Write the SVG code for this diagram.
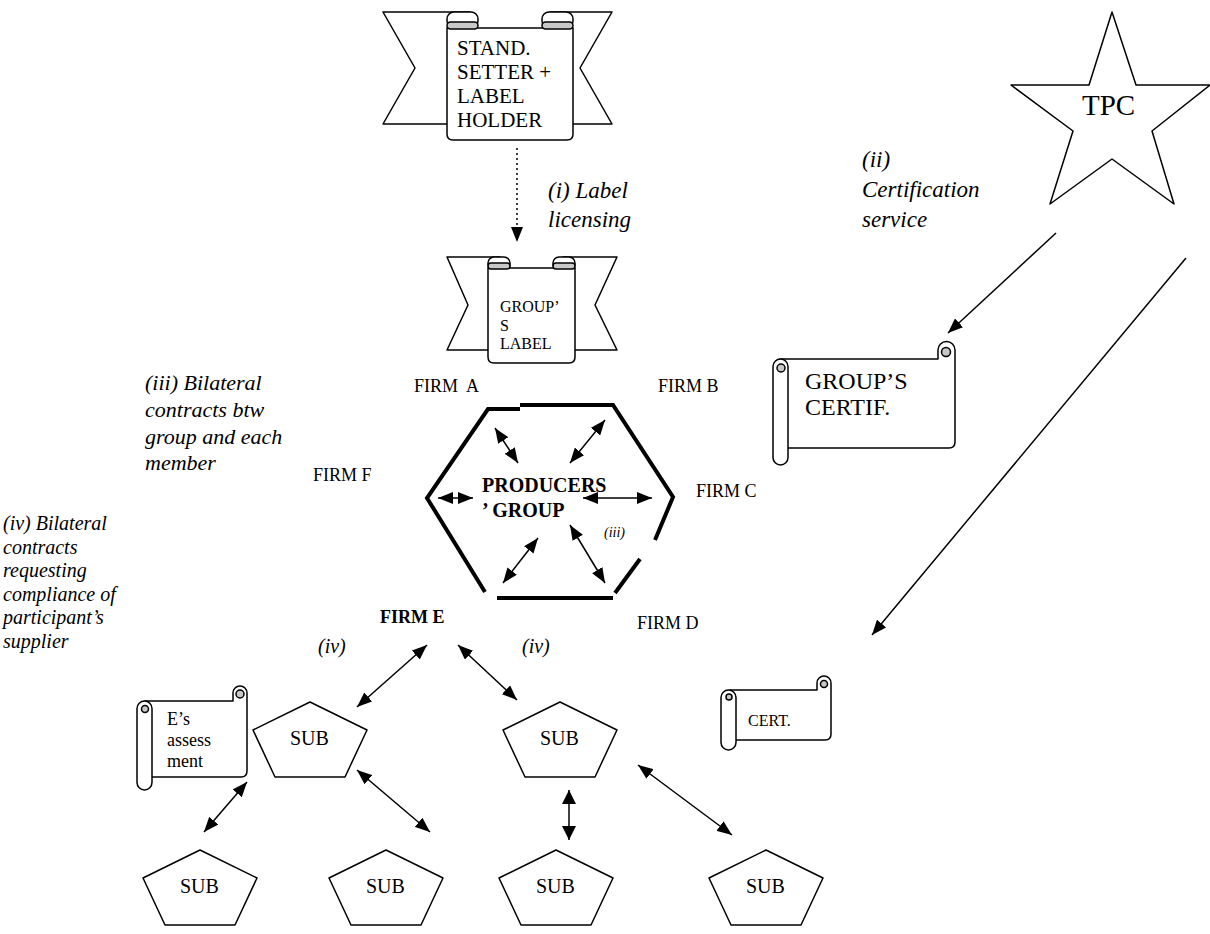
<svg xmlns="http://www.w3.org/2000/svg" width="1210" height="934" viewBox="0 0 1210 934" font-family="'Liberation Serif', 'Times New Roman', serif">
  <style>
    text, tspan { font-family: "Liberation Serif", "Times New Roman", serif; fill: #000; }
    .it { font-style: italic; }
    .bold { font-weight: bold; }
    .shape { fill: #fff; stroke: #000; stroke-width: 1.5; stroke-linejoin: round; }
    .curl { fill: #c8c8c8; stroke: #000; stroke-width: 1.5; }
    .hex { fill: none; stroke: #000; stroke-width: 4; stroke-linecap: butt; stroke-linejoin: miter; }
    .link { fill: none; stroke: #000; stroke-width: 1.5; }
    .two { marker-start: url(#head); marker-end: url(#head); }
    .one { marker-end: url(#head); }
    .dots { stroke-dasharray: 2 3; }
  </style>
  <defs>
    <marker id="head" viewBox="0 0 15 12" refX="15" refY="6" markerWidth="15" markerHeight="12" markerUnits="userSpaceOnUse" orient="auto-start-reverse">
      <path d="M0,0 L15,6 L0,12 Z" fill="#000"/>
    </marker>
    <marker id="headBig" viewBox="0 0 14 14" refX="14" refY="7" markerWidth="14" markerHeight="14" markerUnits="userSpaceOnUse" orient="auto-start-reverse">
      <path d="M0,0 L14,7 L0,14 Z" fill="#000"/>
    </marker>
  </defs>

  <!-- standard setter ribbon -->
  <g id="standard-setter">
    <path class="shape" d="M383,12 L470,12 L470,124 L383,124 L415,68 Z"/>
    <path class="shape" d="M612,12 L550,12 L550,124 L612,124 L580,68 Z"/>
    <rect class="shape" x="447" y="12" width="31" height="16" rx="7"/>
    <rect class="shape" x="542" y="12" width="31" height="16" rx="7"/>
    <path class="shape" d="M447,28 L447,134 Q447,140 453,140 L567,140 Q573,140 573,134 L573,28 Z"/>
    <rect class="curl" x="447" y="22" width="31" height="7" rx="3.5"/>
    <rect class="curl" x="542" y="22" width="31" height="7" rx="3.5"/>
    <text x="457" y="55" font-size="21">STAND.</text>
    <text x="457" y="79" font-size="21">SETTER +</text>
    <text x="457" y="103" font-size="21">LABEL</text>
    <text x="457" y="127" font-size="21">HOLDER</text>
  </g>

  <!-- group's label ribbon -->
  <g id="group-label">
    <path class="shape" d="M447,257 L500,257 L500,350 L447,350 L468,305 Z"/>
    <path class="shape" d="M617,257 L563,257 L563,350 L617,350 L595,305 Z"/>
    <rect class="shape" x="488" y="257" width="22" height="13" rx="6"/>
    <rect class="shape" x="553" y="257" width="22" height="13" rx="6"/>
    <path class="shape" d="M488,268 L488,357 Q488,363 494,363 L569,363 Q575,363 575,357 L575,268 Z"/>
    <rect class="curl" x="488" y="263" width="22" height="6" rx="3"/>
    <rect class="curl" x="553" y="263" width="22" height="6" rx="3"/>
    <text x="500" y="312" font-size="16">GROUP’</text>
    <text x="500" y="331" font-size="16">S</text>
    <text x="500" y="349" font-size="16">LABEL</text>
  </g>

  <!-- third-party certifier -->
  <g id="tpc">
    <polygon class="shape" points="1112,12 1136,85 1210,85 1152,131 1174,204 1112,159 1050,204 1073,131 1011,85 1089,85"/>
    <text x="1082" y="115" font-size="29">TPC</text>
  </g>

  <!-- group certificate scroll -->
  <g id="group-certificate">
    <path class="shape" d="M780,359 L938,359 L938,350 A8.5,8.5 0 0 1 955,350 L955,442 Q955,448 949,448 L780,448 Z"/>
    <circle class="curl" cx="946" cy="352" r="4.5"/>
    <rect class="shape" x="773" y="359" width="15" height="106" rx="7.5"/>
    <circle class="curl" cx="781" cy="368" r="4"/>
    <text x="805" y="389" font-size="24">GROUP’S</text>
    <text x="805" y="415" font-size="24">CERTIF.</text>
  </g>

  <!-- producers' group -->
  <g id="producers-group">
    <path class="hex" d="M485,592 L427,498 L488,409 L520,409"/>
    <path class="hex" d="M520,405 L613,405 L673,497 L655,540"/>
    <path class="hex" d="M640,559 L615,593"/>
    <path class="hex" d="M497,598 L613,598"/>
    <text class="bold" x="482" y="492" font-size="20">PRODUCERS</text>
    <text class="bold" x="482" y="517" font-size="20">’ GROUP</text>
    <text class="it" x="604" y="537" font-size="14">(iii)</text>
  </g>

  <!-- member firms -->
  <g id="firm-a"><text x="414" y="392" font-size="18" xml:space="preserve">FIRM  A</text></g>
  <g id="firm-b"><text x="658" y="392" font-size="18">FIRM B</text></g>
  <g id="firm-c"><text x="696" y="497" font-size="18">FIRM C</text></g>
  <g id="firm-d"><text x="637" y="629" font-size="18">FIRM D</text></g>
  <g id="firm-e"><text class="bold" x="380" y="623" font-size="18">FIRM E</text></g>
  <g id="firm-f"><text x="313" y="481" font-size="18">FIRM F</text></g>

  <!-- E's assessment scroll -->
  <g id="e-assessment">
    <path class="shape" d="M145,701 L233,701 L233,693 A7,7 0 0 1 247,693 L247,771 Q247,777 241,777 L145,777 Z"/>
    <circle class="curl" cx="240" cy="694" r="4"/>
    <rect class="shape" x="137" y="701" width="15" height="89" rx="7.5"/>
    <circle class="curl" cx="145" cy="709" r="3.5"/>
    <text x="167" y="725" font-size="18">E’s</text>
    <text x="167" y="746" font-size="18">assess</text>
    <text x="167" y="767" font-size="18">ment</text>
  </g>

  <!-- supplier certificate scroll -->
  <g id="cert">
    <path class="shape" d="M730,690 L817,690 L817,683 A7,7 0 0 1 831,683 L831,734 Q831,740 825,740 L730,740 Z"/>
    <circle class="curl" cx="824" cy="684" r="3.5"/>
    <rect class="shape" x="721" y="690" width="15" height="60" rx="7.5"/>
    <circle class="curl" cx="729" cy="697" r="3"/>
    <text x="748" y="726" font-size="16">CERT.</text>
  </g>

  <!-- suppliers -->
  <g id="sub-1">
    <polygon class="shape" points="310,702 367,730 345,777 275,777 253,730"/>
    <text x="290" y="745" font-size="20">SUB</text>
  </g>
  <g id="sub-2">
    <polygon class="shape" points="560,702 617,730 595,777 525,777 503,730"/>
    <text x="540" y="745" font-size="20">SUB</text>
  </g>
  <g id="sub-3">
    <polygon class="shape" points="200,850 257,878 235,925 165,925 143,878"/>
    <text x="180" y="893" font-size="20">SUB</text>
  </g>
  <g id="sub-4">
    <polygon class="shape" points="386,850 443,878 421,925 351,925 329,878"/>
    <text x="366" y="893" font-size="20">SUB</text>
  </g>
  <g id="sub-5">
    <polygon class="shape" points="556,850 613,878 591,925 521,925 499,878"/>
    <text x="536" y="893" font-size="20">SUB</text>
  </g>
  <g id="sub-6">
    <polygon class="shape" points="766,850 823,878 801,925 731,925 709,878"/>
    <text x="746" y="893" font-size="20">SUB</text>
  </g>

  <!-- annotations -->
  <g id="notes">
    <text class="it" x="548" y="198" font-size="23">(i) Label</text>
    <text class="it" x="548" y="227" font-size="23">licensing</text>
    <text class="it" x="862" y="167" font-size="23">(ii)</text>
    <text class="it" x="862" y="197" font-size="23">Certification</text>
    <text class="it" x="862" y="227" font-size="23">service</text>
    <text class="it" x="145" y="390" font-size="22">(iii) Bilateral</text>
    <text class="it" x="145" y="417" font-size="22">contracts btw</text>
    <text class="it" x="145" y="444" font-size="22">group and each</text>
    <text class="it" x="145" y="470" font-size="22">member</text>
    <text class="it" x="3" y="530" font-size="20">(iv) Bilateral</text>
    <text class="it" x="3" y="554" font-size="20">contracts</text>
    <text class="it" x="3" y="577" font-size="20">requesting</text>
    <text class="it" x="3" y="601" font-size="20">compliance of</text>
    <text class="it" x="3" y="624" font-size="20">participant’s</text>
    <text class="it" x="3" y="648" font-size="20">supplier</text>
    <text class="it" x="318" y="653" font-size="20">(iv)</text>
    <text class="it" x="522" y="653" font-size="20">(iv)</text>
  </g>

  <!-- connectors -->
  <g id="connectors">
    <line class="link one dots" x1="517" y1="148" x2="517" y2="242"/>
    <line class="link one" x1="1056" y1="233" x2="948" y2="333"/>
    <line class="link one" x1="1186" y1="258" x2="872" y2="635"/>

    <line class="link two" x1="495" y1="428" x2="518" y2="463"/>
    <line class="link two" x1="605" y1="420" x2="570" y2="463"/>
    <line class="link two" x1="438" y1="498" x2="473" y2="498"/>
    <line class="link two" x1="583" y1="498" x2="652" y2="498"/>
    <line class="link two" x1="538" y1="538" x2="503" y2="583"/>
    <line class="link two" x1="570" y1="525" x2="605" y2="583"/>

    <line class="link two" x1="427" y1="645" x2="357" y2="707"/>
    <line class="link two" x1="458" y1="645" x2="517" y2="700"/>
    <line class="link two" x1="247" y1="782" x2="204" y2="832"/>
    <line class="link two" x1="357" y1="770" x2="430" y2="832"/>
    <line class="link" stroke-width="3" marker-start="url(#headBig)" marker-end="url(#headBig)" x1="569" y1="790" x2="569" y2="840"/>
    <line class="link two" x1="638" y1="765" x2="732" y2="835"/>
  </g>
</svg>
